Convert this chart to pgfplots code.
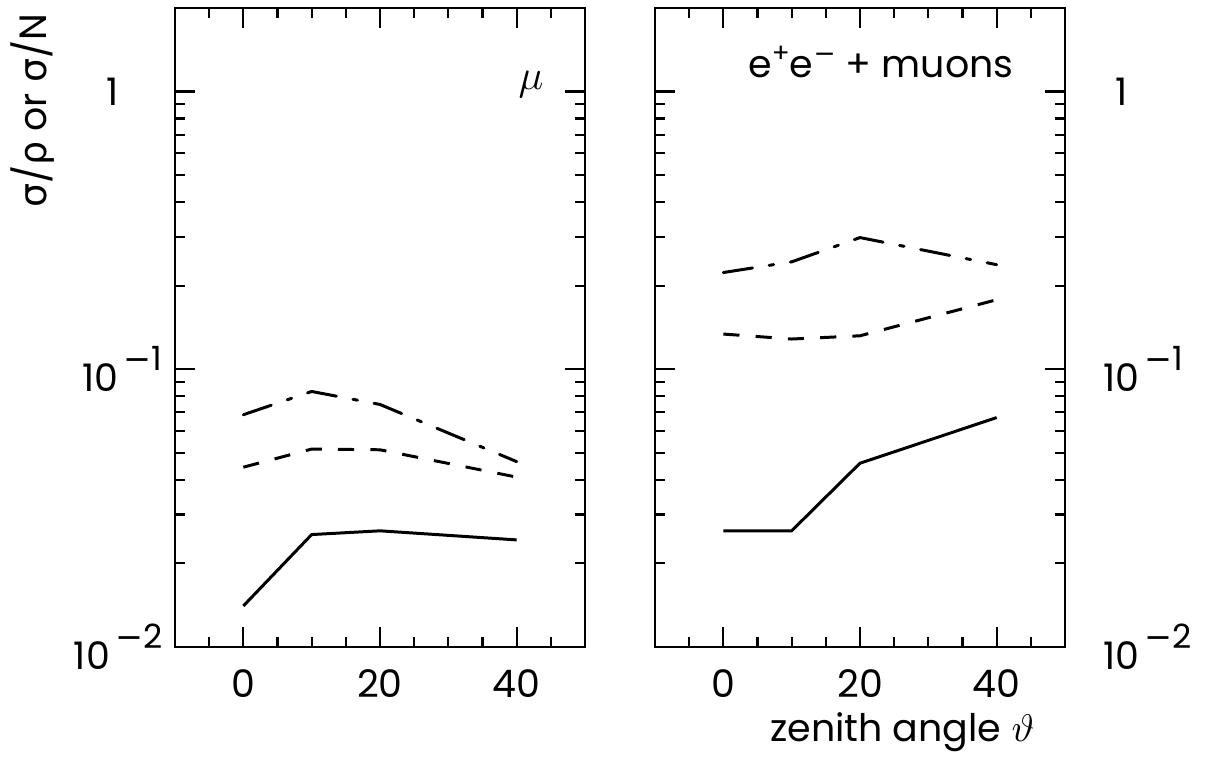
\documentclass[border=0pt]{standalone}
\usepackage{fontspec}
\setmainfont{Poppins}
\newfontfamily\greek{DejaVu Sans}
\usepackage{pgfplots}
\pgfplotsset{compat=1.18}

% raised exponent as in the original tick labels
\newcommand{\ex}[1]{\raisebox{1.0ex}{\fontsize{9.5}{10}\selectfont\,#1}}
% small charge signs of e+ e-
\newcommand{\chg}[1]{\raisebox{0.75ex}{\fontsize{7.5}{8}\selectfont #1}}
\newcommand{\tlfont}{\fontsize{10.8}{12}\selectfont}

\pgfplotsset{
  twopanel/.style={
    scale only axis, width=4.10cm, height=6.39cm,
    xmin=-10, xmax=50, ymin=0.01, ymax=2.0,
    xtick={0,20,40}, xticklabels={0,20,40},
    minor xtick={-5,5,10,15,25,30,35,45},
    ytick={0.01,0.1,1},
    tick align=inside, major tick length=0.2cm, minor tick length=0.1cm,
    axis line style={line width=0.8pt},
    tick style={black, line width=0.6pt},
    tick label style={font=\tlfont},
    xticklabel style={yshift=-0.10cm},
  },
}
\tikzset{
  solidline/.style={black, line width=0.85pt, line join=round},
  dashline/.style={solidline, dash pattern=on 4.6pt off 4.6pt},
  dotdashline/.style={solidline, line cap=round, dash pattern=on 8.4pt off 4.8pt on 1.3pt off 4.8pt},
}

\begin{document}
\begin{tikzpicture}
\begin{semilogyaxis}[twopanel, at={(0,0)},
  yticklabels={10\ex{{\greek −}2}, 10\ex{{\greek −}1}, 1\hphantom{\ex{{\greek −}1}}}]
\addplot[solidline] coordinates {(0,0.01405) (10,0.0254) (20,0.0262) (40,0.0243)};
\addplot[dashline] coordinates {(0,0.0444) (10,0.0516) (20,0.0513) (40,0.0409)};
\addplot[dotdashline] coordinates {(0,0.0686) (10,0.0832) (20,0.0747) (40,0.0465)};
\end{semilogyaxis}
\begin{semilogyaxis}[twopanel, at={(4.80cm,0)}, yticklabel pos=right,
  yticklabels={10\ex{{\greek −}2}, 10\ex{{\greek −}1}, \hphantom{1}1},
  yticklabel style={xshift=0.26cm}]
\addplot[solidline] coordinates {(0,0.0262) (10,0.0262) (20,0.0459) (40,0.067)};
\addplot[dashline] coordinates {(0,0.1339) (10,0.1285) (20,0.132) (40,0.178)};
\addplot[dotdashline] coordinates {(0,0.223) (10,0.2437) (20,0.298) (40,0.238)};
\end{semilogyaxis}
\node[rotate=90, font=\tlfont] at (-1.42cm,5.36cm)
  {{\greek σ}/{\greek ρ} or {\greek σ}/N};
\node[font=\fontsize{13}{14}\selectfont] at (3.56cm,5.62cm) {$\mu$};
\node[anchor=base, font=\tlfont, inner sep=0pt] at (7.06cm,5.69cm)
  {e\chg{+}e\chg{{\greek −}} + muons};
\node[anchor=base east, font=\tlfont, inner sep=0pt] at (8.60cm,-0.95cm)
  {zenith angle $\vartheta$};
\pgfresetboundingbox
\useasboundingbox (-1.75cm,-1.19cm) rectangle (10.49cm,6.47cm);
\end{tikzpicture}
\end{document}
